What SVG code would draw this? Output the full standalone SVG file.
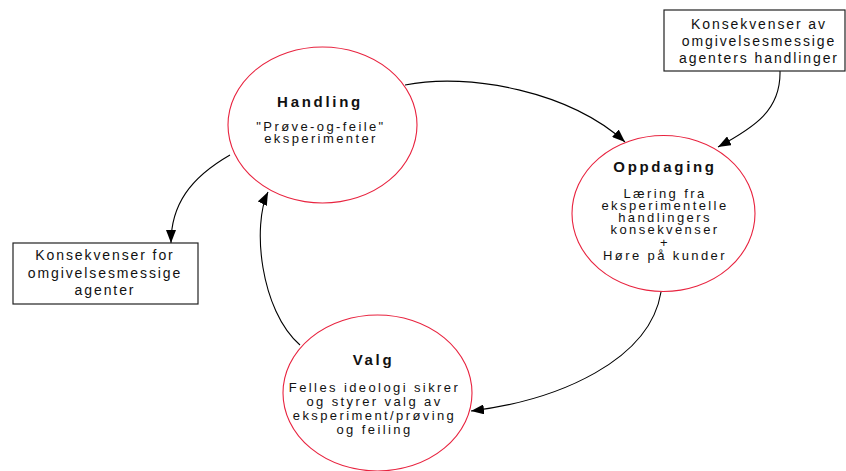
<svg xmlns="http://www.w3.org/2000/svg" width="846" height="471" viewBox="0 0 846 471">
<defs>
<marker id="arr" markerWidth="14" markerHeight="10" refX="13" refY="5" orient="auto" markerUnits="userSpaceOnUse">
<path d="M0,0 L13,5 L0,10 Z" fill="#000"/>
</marker>
<style>
.ell{fill:#fff;stroke:#e8233f;stroke-width:1.1}
.box{fill:#fff;stroke:#222;stroke-width:1.2}
.t{font-family:"Liberation Sans",Arial,sans-serif;font-size:14px;letter-spacing:1.9px;fill:#111;text-anchor:middle}
.s{font-family:"Liberation Sans",Arial,sans-serif;font-size:13px;letter-spacing:2.4px;fill:#111;text-anchor:middle}
.h{font-family:"Liberation Sans",Arial,sans-serif;font-size:15px;font-weight:bold;letter-spacing:2.7px;fill:#111;text-anchor:middle}
.c{fill:none;stroke:#000;stroke-width:1.1;marker-end:url(#arr)}
</style>
</defs>
<rect width="846" height="471" fill="#fff"/>
<g id="connectors">
<path class="c" d="M405,85 C470,72 570,92 625,142"/>
<path class="c" d="M780,71 C781,110 755,127 718,147"/>
<path class="c" d="M661,292 C650,360 560,400 471,411"/>
<path class="c" d="M300,345 C260,310 252,225 268,192"/>
<path class="c" d="M230,155 C190,178 171,205 171,243"/>
</g>
<g id="handling">
<ellipse class="ell" cx="322.5" cy="125" rx="94.5" ry="78"/>
<text class="h" x="320" y="107">Handling</text>
<text class="s" x="321" y="131">"Prøve-og-feile"</text>
<text class="s" x="321" y="142.5">eksperimenter</text>
</g>
<g id="oppdaging">
<ellipse class="ell" cx="663.5" cy="213.5" rx="91.5" ry="78"/>
<text class="h" x="665" y="172">Oppdaging</text>
<text class="s" x="665" y="197.5">Læring fra</text>
<text class="s" x="665" y="209.5">eksperimentelle</text>
<text class="s" x="665" y="221.5">handlingers</text>
<text class="s" x="665" y="234">konsekvenser</text>
<text class="s" x="665" y="247">+</text>
<text class="s" x="665" y="260">Høre på kunder</text>
</g>
<g id="valg">
<ellipse class="ell" cx="377.5" cy="393" rx="94.5" ry="78"/>
<text class="h" x="373.5" y="365">Valg</text>
<text class="s" x="374.5" y="392">Felles ideologi sikrer</text>
<text class="s" x="374.5" y="406">og styrer valg av</text>
<text class="s" x="374.5" y="420">eksperiment/prøving</text>
<text class="s" x="374.5" y="434">og feiling</text>
</g>
<g id="konsekvenser-av">
<rect class="box" x="664" y="10" width="181" height="61"/>
<text class="t" x="759" y="28.5">Konsekvenser av</text>
<text class="t" x="759" y="45.5">omgivelsesmessige</text>
<text class="t" x="759" y="62.5">agenters handlinger</text>
</g>
<g id="konsekvenser-for">
<rect class="box" x="13" y="243" width="185" height="61"/>
<text class="t" x="105" y="260">Konsekvenser for</text>
<text class="t" x="105" y="277.5">omgivelsesmessige</text>
<text class="t" x="105" y="294.5">agenter</text>
</g>
</svg>
